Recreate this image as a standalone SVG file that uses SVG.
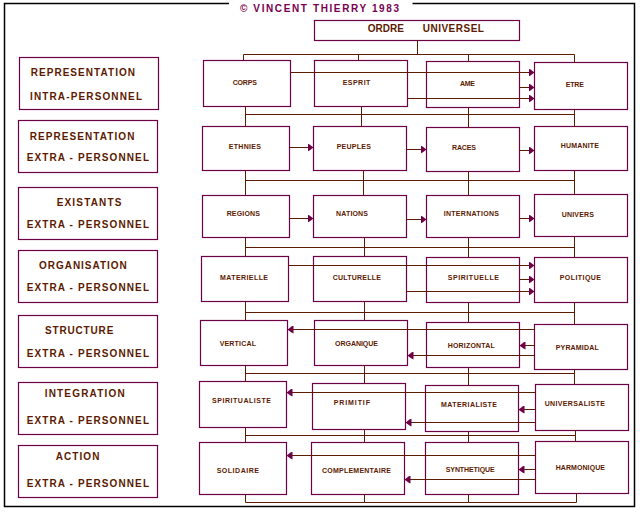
<svg xmlns="http://www.w3.org/2000/svg" width="640" height="512" viewBox="0 0 640 512">
<style>
.box{fill:#fff;stroke:#6e0046;stroke-width:1.2}
.t{font-family:"Liberation Sans",Arial,sans-serif;font-weight:bold;font-size:7px;fill:#5c1a00;text-anchor:middle}
.h{font-family:"Liberation Sans",Arial,sans-serif;font-weight:bold;font-size:10px;fill:#5c1a00}
.ttl{font-family:"Liberation Sans",Arial,sans-serif;font-weight:bold;font-size:10px;fill:#78004f}
.ln{stroke:#5c1a00;stroke-width:1;fill:none}
.ar{stroke:#5c1a00;stroke-width:1;fill:none;marker-end:url(#ah)}
</style>
<defs>
<marker id="ah" markerUnits="userSpaceOnUse" markerWidth="6" markerHeight="8" refX="6" refY="4" orient="auto" viewBox="0 0 6 8">
<path d="M0,0 L2,1 L6,4 L2,7 L0,8 z" fill="#6e0046"/>
</marker>
</defs>
<rect width="640" height="512" fill="#fff"/>
<path d="M229,3.5 H4.5 V506.5 H634.5 V3.5 H412.5" fill="none" stroke="#000" stroke-width="1.5"/>
<text class="ttl" x="240" y="12" textLength="159">© VINCENT THIERRY 1983</text>

<g id="left">
<g id="l1"><rect class="box" x="19.5" y="57.5" width="139" height="52"/><text class="h" x="30.7" y="76.2" textLength="104.3">REPRESENTATION</text><text class="h" x="30" y="99.5" textLength="112">INTRA-PERSONNEL</text></g>
<g id="l2"><rect class="box" x="18.5" y="120.5" width="139" height="52"/><text class="h" x="29.7" y="140.2" textLength="104.7">REPRESENTATION</text><text class="h" x="26.7" y="161.2" textLength="122.3">EXTRA - PERSONNEL</text></g>
<g id="l3"><rect class="box" x="18.5" y="187.5" width="139" height="52"/><text class="h" x="56.7" y="205.5" textLength="64.7">EXISTANTS</text><text class="h" x="26.7" y="228.2" textLength="122.3">EXTRA - PERSONNEL</text></g>
<g id="l4"><rect class="box" x="18.5" y="250.5" width="139" height="52"/><text class="h" x="39" y="268.5" textLength="87.7">ORGANISATION</text><text class="h" x="26.7" y="291.2" textLength="122.3">EXTRA - PERSONNEL</text></g>
<g id="l5"><rect class="box" x="18.5" y="315.5" width="139" height="52"/><text class="h" x="45" y="333.5" textLength="68.3">STRUCTURE</text><text class="h" x="26.7" y="356.5" textLength="122.3">EXTRA - PERSONNEL</text></g>
<g id="l6"><rect class="box" x="18.5" y="382.5" width="139" height="52"/><text class="h" x="44.7" y="396.5" textLength="80">INTEGRATION</text><text class="h" x="26.7" y="423.5" textLength="122.3">EXTRA - PERSONNEL</text></g>
<g id="l7"><rect class="box" x="18.5" y="445.5" width="139" height="52"/><text class="h" x="55.7" y="459.5" textLength="43.7">ACTION</text><text class="h" x="26.7" y="486.5" textLength="122.3">EXTRA - PERSONNEL</text></g>
</g>

<g id="n_ordre"><rect class="box" x="314.5" y="20.5" width="205" height="20"/><text class="h"><tspan x="367.7" y="32.2">ORDRE</tspan><tspan x="422.7" y="32.2" letter-spacing="0.5">UNIVERSEL</tspan></text></g>

<g id="n_corps"><rect class="box" x="203.5" y="60.5" width="87" height="46"/><text class="t" x="244.8" y="84.8" textLength="24.3">CORPS</text></g>
<g id="n_esprit"><rect class="box" x="314.5" y="60.5" width="93" height="46"/><text class="t" x="356.5" y="84.8" textLength="27.7">ESPRIT</text></g>
<g id="n_ame"><rect class="box" x="426.5" y="61.5" width="93" height="46"/><text class="t" x="467.5" y="85.8" textLength="15">AME</text></g>
<g id="n_etre"><rect class="box" x="534.5" y="62.5" width="93" height="47"/><text class="t" x="574.8" y="86.8" textLength="18.3">ETRE</text></g>

<g id="n_ethnies"><rect class="box" x="202.5" y="126.5" width="87" height="44"/><text class="t" x="244.8" y="148.8" textLength="32.3">ETHNIES</text></g>
<g id="n_peuples"><rect class="box" x="313.5" y="126.5" width="93" height="44"/><text class="t" x="353.8" y="148.8" textLength="34.3">PEUPLES</text></g>
<g id="n_races"><rect class="box" x="426.5" y="127.5" width="93" height="44"/><text class="t" x="464" y="149.8" textLength="24">RACES</text></g>
<g id="n_humanite"><rect class="box" x="534.5" y="126.5" width="93" height="44"/><text class="t" x="579.8" y="147.8" textLength="38.3">HUMANITE</text></g>

<g id="n_regions"><rect class="box" x="202.5" y="195.5" width="87" height="42"/><text class="t" x="243.3" y="215.8" textLength="33.3">REGIONS</text></g>
<g id="n_nations"><rect class="box" x="313.5" y="195.5" width="93" height="42"/><text class="t" x="352" y="215.8" textLength="32">NATIONS</text></g>
<g id="n_internations"><rect class="box" x="426.5" y="195.5" width="93" height="42"/><text class="t" x="471.3" y="215.8" textLength="55.3">INTERNATIONS</text></g>
<g id="n_univers"><rect class="box" x="534.5" y="194.5" width="93" height="42"/><text class="t" x="577.8" y="216.8" textLength="32.3">UNIVERS</text></g>

<g id="n_materielle"><rect class="box" x="201.5" y="256.5" width="87" height="45"/><text class="t" x="244" y="279.8" textLength="48">MATERIELLE</text></g>
<g id="n_culturelle"><rect class="box" x="313.5" y="256.5" width="93" height="45"/><text class="t" x="356.8" y="279.8" textLength="48.3">CULTURELLE</text></g>
<g id="n_spirituelle"><rect class="box" x="426.5" y="257.5" width="93" height="45"/><text class="t" x="473.3" y="279.8" textLength="51.3">SPIRITUELLE</text></g>
<g id="n_politique"><rect class="box" x="534.5" y="257.5" width="93" height="45"/><text class="t" x="580.3" y="279.8" textLength="41.3">POLITIQUE</text></g>

<g id="n_vertical"><rect class="box" x="200.5" y="320.5" width="87" height="45"/><text class="t" x="237.8" y="345.8" textLength="36.3">VERTICAL</text></g>
<g id="n_organique"><rect class="box" x="314.5" y="320.5" width="93" height="45"/><text class="t" x="356.5" y="345.8" textLength="43">ORGANIQUE</text></g>
<g id="n_horizontal"><rect class="box" x="426.5" y="322.5" width="93" height="45"/><text class="t" x="471.2" y="347.8" textLength="47">HORIZONTAL</text></g>
<g id="n_pyramidal"><rect class="box" x="534.5" y="324.5" width="93" height="45"/><text class="t" x="577.2" y="349.8" textLength="43">PYRAMIDAL</text></g>

<g id="n_spiritualiste"><rect class="box" x="199.5" y="381.5" width="87" height="46"/><text class="t" x="241.5" y="402.8" textLength="59">SPIRITUALISTE</text></g>
<g id="n_primitif"><rect class="box" x="312.5" y="383.5" width="93" height="46"/><text class="t" x="351.8" y="404.8" textLength="36.3">PRIMITIF</text></g>
<g id="n_materialiste"><rect class="box" x="425.5" y="385.5" width="93" height="46"/><text class="t" x="469" y="406.8" textLength="56">MATERIALISTE</text></g>
<g id="n_universaliste"><rect class="box" x="535.5" y="384.5" width="93" height="46"/><text class="t" x="574.8" y="405.8" textLength="60.3">UNIVERSALISTE</text></g>

<g id="n_solidaire"><rect class="box" x="199.5" y="442.5" width="87" height="52"/><text class="t" x="237.8" y="472.8" textLength="42.3">SOLIDAIRE</text></g>
<g id="n_complementaire"><rect class="box" x="311.5" y="442.5" width="93" height="52"/><text class="t" x="356.5" y="472.8" textLength="69">COMPLEMENTAIRE</text></g>
<g id="n_synthetique"><rect class="box" x="425.5" y="442.5" width="93" height="52"/><text class="t" x="470.2" y="471.8" textLength="49">SYNTHETIQUE</text></g>
<g id="n_harmonique"><rect class="box" x="535.5" y="441.5" width="93" height="52"/><text class="t" x="580.3" y="469.8" textLength="49.3">HARMONIQUE</text></g>

<g id="connectors">
<path class="ln" d="M417.5,40.5 V54.5 M243.5,54.5 H574.5 M243.5,54.5 V60.5 M358.5,54.5 V60.5 M468.5,54.5 V61.5 M574.5,54.5 V62.5"/>
<path class="ln" d="M245.5,114.5 H574.5 M245.5,106.5 V126.5 M361.5,106.5 V126.5 M468.5,107.5 V127.5 M574.5,109.5 V126.5"/>
<path class="ln" d="M245.5,180.5 H574.5 M245.5,170.5 V195.5 M363.5,170.5 V195.5 M468.5,171.5 V195.5 M574.5,170.5 V194.5"/>
<path class="ln" d="M245.5,247.5 H574.5 M245.5,237.5 V256.5 M364.5,237.5 V256.5 M468.5,237.5 V257.5 M574.5,236.5 V257.5"/>
<path class="ln" d="M245.5,312.5 H574.5 M245.5,301.5 V320.5 M364.5,301.5 V320.5 M468.5,302.5 V322.5 M574.5,302.5 V324.5"/>
<path class="ln" d="M245.5,373.5 H574.5 M245.5,365.5 V381.5 M364.5,365.5 V383.5 M468.5,367.5 V385.5 M574.5,369.5 V384.5"/>
<path class="ln" d="M245.5,435.5 H575.5 M245.5,427.5 V442.5 M364.5,429.5 V442.5 M468.5,431.5 V442.5 M575.5,430.5 V441.5"/>
<path class="ln" d="M245.5,502.5 H576.5 M245.5,494.5 V502.5 M364.5,494.5 V502.5 M468.5,494.5 V502.5 M576.5,493.5 V502.5"/>
<path class="ar" d="M290.5,72.5 H534.5"/>
<path class="ar" d="M519.5,87.5 H534.5"/>
<path class="ar" d="M407.5,98.5 H534.5"/>
<path class="ar" d="M289.5,147.5 H313.5"/>
<path class="ar" d="M406.5,149.5 H426.5"/>
<path class="ar" d="M519.5,150.5 H534.5"/>
<path class="ar" d="M289.5,218.5 H313.5"/>
<path class="ar" d="M406.5,219.5 H426.5"/>
<path class="ar" d="M519.5,218.5 H534.5"/>
<path class="ar" d="M288.5,265.5 H534.5"/>
<path class="ar" d="M519.5,279.5 H534.5"/>
<path class="ar" d="M406.5,291.5 H534.5"/>
<path class="ar" d="M534.5,329.5 H287.5"/>
<path class="ar" d="M534.5,345.5 H519.5"/>
<path class="ar" d="M534.5,355.5 H407.5"/>
<path class="ar" d="M535.5,392.5 H286.5"/>
<path class="ar" d="M535.5,409.5 H518.5"/>
<path class="ar" d="M535.5,422.5 H405.5"/>
<path class="ar" d="M535.5,455.5 H286.5"/>
<path class="ar" d="M535.5,469.5 H518.5"/>
<path class="ar" d="M535.5,479.5 H404.5"/>
</g>
</svg>
